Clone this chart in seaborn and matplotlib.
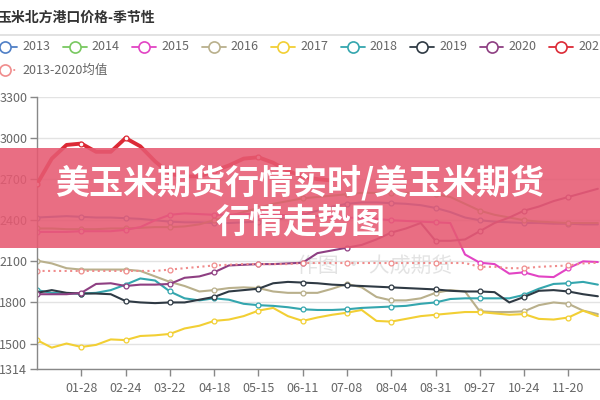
import matplotlib
matplotlib.use("Agg")
import pandas as pd
import matplotlib.pyplot as plt
import seaborn as sns
from matplotlib.lines import Line2D
from matplotlib.patches import Rectangle

# ---------------- 数据（每 9 天取一个点，从 1 月 1 日开始） ----------------
days = list(range(1, 344, 9))

y2013 = [2420, 2425, 2430, 2425, 2420, 2420, 2415, 2410, 2400, 2390, 2385, 2385, 2380,
         2380, 2385, 2390, 2400, 2420, 2440, 2470, 2500, 2520, 2530, 2530, 2525, 2520,
         2510, 2490, 2460, 2420, 2400, 2390, 2385, 2380, 2380, 2375, 2375, 2370, 2370]
y2014 = [2340, 2340, 2335, 2335, 2335, 2340, 2340, 2345, 2350, 2350, 2355, 2370, 2400,
         2430, 2460, 2490, 2520, 2540, 2560, 2570, 2580, 2590, 2600, 2600, 2600, 2600,
         2600, 2590, 2570, 2520, 2470, 2440, 2420, 2400, 2390, 2385, 2380, 2380, 2380]
y2015 = [2315, 2315, 2315, 2320, 2320, 2320, 2330, 2350, 2400, 2440, 2450, 2445, 2440,
         2440, 2445, 2445, 2440, 2435, 2430, 2430, 2425, 2420, 2415, 2410, 2400, 2395,
         2390, 2385, 2380, 2150, 2090, 2080, 2010, 2020, 1990, 1985, 2050, 2100, 2095]
y2016 = [2105, 2085, 2050, 2040, 2040, 2040, 2040, 2030, 1990, 1950, 1920, 1880, 1890,
         1905, 1910, 1905, 1880, 1870, 1870, 1870, 1900, 1935, 1910, 1840, 1815, 1815,
         1830, 1870, 1890, 1880, 1735, 1730, 1730, 1735, 1780, 1800, 1790, 1740, 1715]
y2017 = [1525, 1470, 1500, 1475, 1490, 1530, 1525, 1555, 1560, 1570, 1610, 1630, 1665,
         1675, 1700, 1740, 1760, 1700, 1665, 1690, 1710, 1725, 1745, 1665, 1660, 1680,
         1700, 1710, 1720, 1730, 1730, 1720, 1710, 1715, 1680, 1675, 1690, 1740, 1700]
y2018 = [1890, 1870, 1865, 1865, 1870, 1890, 1930, 1975, 1960, 1880, 1830, 1815, 1830,
         1820, 1790, 1780, 1775, 1765, 1750, 1745, 1745, 1750, 1760, 1765, 1770, 1775,
         1790, 1800, 1825, 1830, 1830, 1830, 1830, 1855, 1900, 1935, 1940, 1950, 1930]
y2019 = [1870, 1890, 1870, 1865, 1865, 1860, 1810, 1800, 1795, 1800, 1800, 1820, 1840,
         1880, 1890, 1900, 1940, 1950, 1945, 1940, 1930, 1925, 1920, 1915, 1910, 1905,
         1900, 1895, 1885, 1880, 1880, 1875, 1800, 1840, 1885, 1890, 1880, 1860, 1845]
y2020 = [1860, 1860, 1860, 1870, 1935, 1940, 1920, 1930, 1930, 1935, 1980, 1990, 2020,
         2070, 2075, 2080, 2080, 2085, 2090, 2160, 2180, 2200, 2220, 2260, 2310, 2340,
         2380, 2250, 2250, 2260, 2320, 2380, 2420, 2470, 2500, 2540, 2570, 2600, 2630]
y2021 = [2664, 2850, 2950, 2960, 2900, 2900, 3000, 2940, 2830, 2740, 2720, 2720, 2760,
         2800, 2850, 2860, 2820, 2760, 2720, 2700, 2690, None, None, None, None, None,
         None, None, None, None, None, None, None, None, None, None, None, None, None]
y_avg = [2030, 2030, 2030, 2030, 2030, 2030, 2030, 2030, 2030, 2040, 2050, 2060, 2070,
         2075, 2080, 2080, 2080, 2080, 2088, 2088, 2088, 2088, 2088, 2088, 2088, 2088,
         2088, 2088, 2088, 2088, 2060, 2060, 2050, 2050, 2060, 2065, 2070, 2085, 2090]

names = ['2013', '2014', '2015', '2016', '2017', '2018', '2019', '2020', '2021', '2013-2020均值']
series = [y2013, y2014, y2015, y2016, y2017, y2018, y2019, y2020, y2021, y_avg]
colors = ['#4f7fc6', '#78c860', '#e244c4', '#b9b08c', '#f2cf34', '#34a6ae',
          '#2f3a44', '#8e3f82', '#dc2a36', '#f08c8c']

tick_days = [28, 55, 82, 109, 136, 163, 190, 217, 244, 271, 298, 325]
y_ticks = [1314, 1500, 1800, 2100, 2400, 2700, 3000, 3300]

# ---------------- 画图 ----------------
sns.set_theme(style='white')
plt.rcParams['font.family'] = ['Noto Sans CJK SC', 'DejaVu Sans']

fig = plt.figure(figsize=(6, 4), dpi=100)
ax = fig.add_axes([37 / 600, 31 / 400, 1 - 37 / 600, 272 / 400])

for name, vals, c in zip(names, series, colors):
    df = pd.DataFrame({'day': days, 'price': pd.to_numeric(pd.Series(vals), errors='coerce')})
    lw = 2.8 if name == '2021' else 1.5
    ls = ':' if name.endswith('均值') else '-'
    sns.lineplot(data=df, x='day', y='price', ax=ax, color=c, lw=lw, ls=ls,
                 marker='o', markevery=3, ms=3.5, mfc='white', mec=c, mew=0.9,
                 zorder=3 if name == '2021' else 2)

ax.set_xlim(1, 344.3)
ax.set_ylim(1314, 3300)
ax.set_xticks(tick_days)
labels = (pd.Timestamp('2020-01-01') + pd.to_timedelta([d - 1 for d in tick_days], unit='D')).strftime('%m-%d')
ax.set_xticklabels(labels)
ax.set_yticks(y_ticks)
ax.set_xlabel('')
ax.set_ylabel('')
ax.grid(axis='y', color='#e3e3e3', lw=1)
ax.grid(axis='x', visible=False)
for s in ['top', 'right']:
    ax.spines[s].set_visible(False)
for s in ['left', 'bottom']:
    ax.spines[s].set_color('#888888')
    ax.spines[s].set_linewidth(1)
ax.tick_params(axis='both', colors='#888888', labelcolor='#666666', labelsize=9,
               length=5, width=1, direction='out', left=True, bottom=True, pad=3)
ax.tick_params(axis='y', pad=2)
ax.tick_params(axis='x', pad=4)

# 水印
ax.text(0.6, 0.38, '作图 · 大成期货', transform=ax.transAxes, fontsize=15,
        color='#d8d8d8', alpha=0.7, ha='center', va='center', zorder=1)

# 标题（参考图中左侧被截断）
fig.text(-0.005, 0.955, '玉米北方港口价格-季节性', fontsize=10, color='#333333',
         ha='left', va='center', fontweight='bold')
fig.add_artist(Line2D([0, 1], [1 - 35 / 400, 1 - 35 / 400], color='#dddddd', lw=1.2))

# 图例
for i, (name, c) in enumerate(zip(names, colors)):
    if i < 9:
        x0 = -7 + 69.5 * i
        yy = 1 - 47 / 400
    else:
        x0 = -7
        yy = 1 - 70 / 400
    ls = ':' if name.endswith('均值') else '-'
    fig.add_artist(Line2D([x0 / 600, (x0 + 24) / 600], [yy, yy], color=c, lw=1.3, ls=ls))
    fig.add_artist(Line2D([(x0 + 12) / 600], [yy], color=c, marker='o', ms=8,
                          mfc='white', mec=c, mew=1.2))
    fig.text((x0 + 29) / 600, yy, name, fontsize=9, color='#666666', ha='left', va='center')

# 红色横幅
fig.add_artist(Rectangle((0, 1 - 248 / 400), 1, 100 / 400, transform=fig.transFigure,
                         facecolor='#e65a72', alpha=0.88, edgecolor='none', zorder=10))
fig.text(0.5, 1 - 183 / 400, '美玉米期货行情实时/美玉米期货', fontsize=24.5, color='white',
         ha='center', va='center', fontweight='heavy', zorder=11)
fig.text(0.5, 1 - 222 / 400, '行情走势图', fontsize=24.5, color='white',
         ha='center', va='center', fontweight='heavy', zorder=11)

fig.savefig('out.png', dpi=100)
